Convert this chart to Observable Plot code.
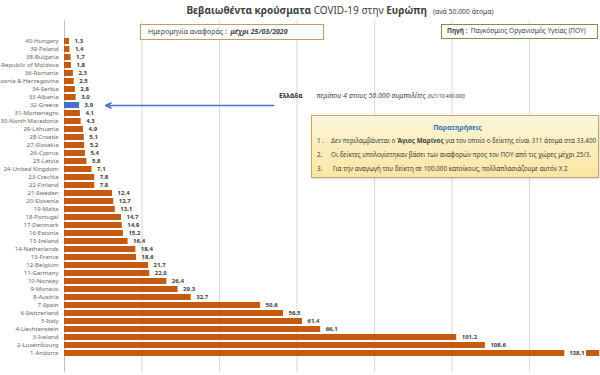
<!DOCTYPE html>
<html>
<head>
<meta charset="utf-8">
<script src="https://cdn.jsdelivr.net/npm/d3@7"></script>
<script src="https://cdn.jsdelivr.net/npm/@observablehq/plot@0.6"></script>
<style>
  body { margin: 0; background: #fff; font-family: "Noto Sans", "Open Sans", sans-serif; }
  #wrap { position: relative; width: 600px; height: 375px; overflow: hidden; }
  #title { height: 20px; line-height: 20px; text-align: center; padding-left: 80px; color: #404040; font-size: 10px; white-space: nowrap; }
  #title .small { font-size: 6.8px; margin-left: 6px; }
  .box { position: absolute; background: #fff; white-space: nowrap; color: #404040; box-sizing: border-box; }
  #date { left: 140px; top: 24px; width: 184px; height: 16px; border: 1.5px solid #c4996b; font-size: 7px; line-height: 13px; padding-left: 7px; }
  #source { left: 441px; top: 24px; width: 157px; height: 15px; border: 1.5px solid #6d9a4a; font-size: 6.5px; line-height: 12px; padding-left: 5px; }
  #greece { position: absolute; left: 279px; top: 90px; font-size: 6.5px; color: #303030; white-space: nowrap; line-height: 12px; }
  #greece i { margin-left: 14px; color: #404040; font-size: 7px; }
  #greece .tiny { font-size: 5px; }
  #notes { left: 311px; top: 115px; width: 288px; height: 63px; border: 1px solid #c9a46a;
           background: linear-gradient(#fdf6d8, #fbe6a2); font-size: 6.3px; line-height: 14px; padding-left: 5px; box-shadow: 1px 1px 2px rgba(0,0,0,0.15); }
  #notes .head { text-align: center; color: #2e75b6; font-weight: bold; font-size: 6.8px; line-height: 13px; margin-top: 5px; margin-bottom: 0px; }
  #notes span.n { display: inline-block; width: 14px; }
</style>
</head>
<body>
<div id="wrap">
  <div id="title"><b>Βεβαιωθέντα κρούσματα</b> COVID-19 στην <b>Ευρώπη</b><span class="small">(ανά 50.000 άτομα)</span></div>
  <div id="chart"></div>
  <div class="box" id="date">Ημερομηνία αναφοράς :&nbsp; <b><i>μέχρι 25/03/2020</i></b></div>
  <div class="box" id="source"><b>Πηγή</b> :&nbsp; Παγκόσμιος Οργανισμός Υγείας (ΠΟΥ)</div>
  <div id="greece"><b>Ελλάδα</b><i>περίπου 4 στους 50.000 συμπολίτες <span class="tiny">(821/10.400.000)</span></i></div>
  <div class="box" id="notes">
    <div class="head">Παρατηρήσεις</div>
    <div><span class="n">1 .</span>Δεν περιλαμβάνεται ο <b>Άγιος Μαρίνος</b> για τον οποίο ο δείκτης είναι 311 άτομα στα 33.400</div>
    <div><span class="n">2.</span>Οι δείκτες υπολογίστηκαν βάσει των αναφορών προς τον ΠΟΥ από τις χώρες μέχρι 25/3.</div>
    <div><span class="n">3.</span>&nbsp;Για την αναγωγή του δείκτη σε 100.000 κατοίκους, πολλαπλασιάζουμε αυτόν Χ 2</div>
  </div>
</div>
<script>
const countries = ["1-Andorra","2-Luxembourg","3-Iceland","4-Liechtenstein","5-Italy","6-Switzerland","7-Spain","8-Austria","9-Monaco","10-Norway","11-Germany","12-Belgium","13-France","14-Netherlands","15-Ireland","16-Estonia","17-Denmark","18-Portugal","19-Malta","20-Slovenia","21-Sweden","22-Finland","23-Czechia","24-United Kingdom","25-Latvia","26-Cyprus","27-Slovakia","28-Croatia","29-Lithuania","30-North Macedonia","31-Montenegro","32-Greece","33-Albania","34-Serbia","35-Bosnia & Herzegovina","36-Romania","37-Republic of Moldova","38-Bulgaria","39-Poland","40-Hungary"];
const values = [138.1,108.6,101.2,66.1,61.4,56.5,50.6,32.7,29.3,26.4,22.0,21.7,18.6,18.4,16.4,15.2,14.9,14.7,13.1,12.7,12.4,7.8,7.8,7.1,5.8,5.4,5.2,5.1,4.9,4.3,4.1,3.9,3.0,2.8,2.5,2.3,1.8,1.7,1.4,1.3];
const highlight = "32-Greece";
const gridTicks = [20,40,60,80,100,120];
const xMax = 138.3;
// arrow annotation (value units) pointing at Greece
const arrowFrom = 54, arrowTo = 10.6;

const data = countries.map((c, i) => ({country: c, value: values[i]}));
const fmt = v => v.toFixed(1).replace(".", ",");
const overflow = data.filter(d => d.value > 130);
const inside = data.filter(d => d.value <= 130);

const plot = Plot.plot({
  width: 600,
  height: 355,
  marginLeft: 64,
  marginRight: 0,
  marginTop: 0.6,
  marginBottom: 2.6,
  style: {fontFamily: "'Noto Sans', sans-serif", background: "transparent"},
  x: {domain: [0, xMax], axis: null},
  y: {domain: countries.slice().reverse(), padding: 0.3, label: null, tickSize: 0, tickPadding: 6},
  marks: [
    Plot.ruleX(gridTicks, {stroke: "#d9d9d9", strokeWidth: 1}),
    Plot.ruleX([0], {stroke: "#bfbfbf", strokeWidth: 1}),
    Plot.axisY({tickSize: 0, tickPadding: 6, fontSize: 6, color: "#666666", label: null}),
    Plot.barX(data, {x: "value", y: "country", fill: d => d.country === highlight ? "#4472c4" : "#c55a11"}),
    Plot.text(inside, {x: "value", y: "country", text: d => fmt(d.value), textAnchor: "start", dx: 5, fontSize: 6, fontWeight: "bold", fill: "#404040"}),
    Plot.barX(overflow, {x1: d => d.value - 9, x2: d => d.value - 3.4, y: "country", fill: "white"}),
    Plot.text(overflow, {x: d => d.value - 3.9, y: "country", text: d => fmt(d.value), textAnchor: "end", fontSize: 6, fontWeight: "bold", fill: "#404040"}),
    Plot.arrow([{x1: arrowFrom, x2: arrowTo, y: highlight}], {x1: "x1", x2: "x2", y1: "y", y2: "y", stroke: "#4472c4", strokeWidth: 1.5, headLength: 6, headAngle: 50})
  ]
});
document.getElementById("chart").appendChild(plot);
</script>
</body>
</html>
